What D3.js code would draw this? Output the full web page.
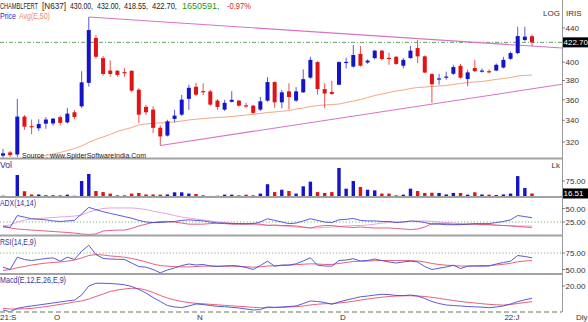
<!DOCTYPE html>
<html><head><meta charset="utf-8">
<script src="https://cdn.jsdelivr.net/npm/d3@7"></script>
<style>
html,body{margin:0;padding:0;background:#fff;}
svg{display:block;font-family:"Liberation Sans",Arial,sans-serif;}
</style></head><body>
<svg id="chart" width="588" height="322"></svg>
<script>
// ---- daily OHLC (one entry per session) ----
const open  = [308,310.8,309,343.5,334.5,332.5,336.8,337,343,338,347.7,353.5,377.5,428,404.5,390.7,390.4,389,390.4,370.3,353,350.3,333,325.8,341.3,345.4,361,373.4,368.9,368.6,359.2,350.3,358,359.2,354.5,354.2,350.3,359.2,378.3,357.5,368.6,359.2,367.6,383,400,371,368,375.5,399.5,395,409.3,399.6,404.5,413,404.8,406,396,404.5,416,406.5,386.8,381.8,383.8,387.2,395.9,381.5,393.5,390.2,390,390.7,394,403.7,410.2,425.5,430];
const high  = [314,312,361,345,340.7,341,343,342,344.5,352,350,390,453.7,431.5,407,402,391.5,393.3,391,372,355,353.6,335,340.5,350,365,375.5,377.6,377,370,361,360,368.8,360,357,355,363,383.5,379,370,377,373,392,406,401,377,379.5,401,405,419.6,418.5,403,414,414,410.5,407,404.5,418.5,425.4,407.5,388,387,389.5,397,398,391.5,402.5,393,392,398.5,406,412,441.6,441.6,432];
const low   = [306,307,307,331,327,330,332,335,335,337,341,352,373.5,404,385,384,384,384,368,337.5,345,328,316.9,325,338,344,350,364,365,354,350,349,357.5,353.5,352,346,349,358,352,351.5,350.3,358,367,382,365.2,351.5,365,375,393,394,395,398,403,402,397,397,393,404,399,388,357,375.5,380.8,386,382,374,389,388.5,387.5,390,393,402.5,409,424,418.55];
const close = [310,308.5,343.5,334,333.5,336.5,340.7,341.6,337.6,346.4,343.2,378,437.5,406,387,387,386,388,369.3,345.4,347.7,332.9,325,339,344.5,360.2,372.3,365.2,368.3,355.2,352.9,357,360,354.2,353.8,347.1,358.5,378.3,357.5,367.6,362.8,368.6,381.4,402.5,371,366.4,366,400,400.3,408,396,401.7,413,403.5,403.7,398,402.5,413,406.5,388.5,376,382.2,384.2,394.5,383,388.7,390,390.7,389.5,397,402.5,410.2,430.2,429.5,422.7];
// volume in lakh shares
const volume = [6,4,103,27,12,12,8,8,8,11,6,75,108,28,23,16,8,8,16,19,12,12,11,12,22,22,16,14,8,5,6,11,11,8,11,8,16,60,23,34,28,16,50,72,23,19,23,136,39,75,47,34,31,16,16,8,11,39,28,19,20,19,12,19,19,11,22,12,11,9,12,16,98,42,16.51];
// 50-period exponential average of close
const ema50 = [299.2,300.9,302.6,304.3,305.6,306.9,308.1,309.4,310.7,312.5,314.2,316.5,319.6,322.3,324.5,326.8,329.5,331.4,333.2,335.6,336.5,337.2,337.5,337.9,338.4,339.3,340.3,341.0,341.7,342.2,342.7,343.1,343.6,344.3,345.1,345.7,346.5,347.5,348.0,348.7,349.4,350.9,351.9,353.3,354.3,354.8,355.3,355.8,357.3,358.8,360.3,362.3,364.4,365.9,367.4,369.0,370.0,371.6,372.6,373.1,373.7,374.2,374.7,375.8,376.8,377.9,378.4,378.9,380.0,381.1,382.1,383.2,384.8,385.4,385.9];
// ADX(14,14): +DI, ADX, -DI
const plusDI = [16,15,37,34,31,30,29,27,26,27,28,40,52,48,44,41,38,35,32,28,25,24,24,25,26,28,29,28,27,25,23,23,22,22,22,22,25,31,28,25,22,23,27,31,28,25,24,29,30,31.5,28,27,27,26,26,24,25,27,26,24,21,21,20,20,20,21,22,22,22,24,26,29,37,35,33];
const adx    = [17.5,19.5,25,28.7,30.5,31.5,32.4,33.3,34.3,35,36,38,43.5,47,50,51,51,51,51,50,48,45,42.6,40,37,34,32.4,30.5,28.7,27,25,24,23,22,21,20.4,19.4,19.4,18.5,17.6,16.7,15.7,14.8,14,13.9,14.8,15.7,16.7,17.6,18.5,18.5,19.4,21,23,24,25,25,26,27,27,26,25,24,23,22,21,20.4,19.4,19.4,18.5,18.5,18.5,17.6,17.6,17.6];
const minusDI= [17.6,14,12,11,10,9.3,8.3,7.4,6.5,5.6,4.6,2.8,1.9,2.8,8.3,9.3,10,10,13,17.6,21,24,26,26,25,23,21,21,21,22,23,22,21,21,21,22,21,18.5,19.4,18.5,18.5,17.6,15.7,13.9,16.7,18.5,18.5,16.7,15.7,14.8,15.7,14.8,13.9,13.9,13.9,13,12,11,12,15.7,22,22,22,21,21,21,21,20.4,20.4,19.4,18.5,17.6,16.7,15.7,14.8];
// RSI(14) and its 9-period average
const rsi    = [53.5,50,68.6,65.2,63.6,65.2,66.7,67.7,62.6,68.6,65.2,77.7,86.8,72.7,66.7,65.9,65.5,65.2,59.8,54.5,53.5,50,45,49.2,52.3,56,58.3,56.8,57.6,55.3,54.5,55.3,56,55.3,53,50,56,62.6,55,56.8,56.8,58.6,62.9,67.7,56.5,55.3,55,63.6,64.4,66.2,62.9,63.6,65.9,63.6,61.4,59.8,61.4,62.6,61.4,54.5,50,52,53.8,56.5,51.5,55,55.3,55,55.3,58.3,60.6,62.6,71.2,69.7,67.7];
const rsiAvg = [48.5,50,52.6,54.5,56.8,58.3,59.8,60.6,61.4,62.6,64.4,67.4,71.2,72.7,72,70.5,69.7,68.6,66.7,64.4,61.4,58.3,56,55,54.5,54,53.8,54.5,55,55.3,55.3,55,55,54.5,54.2,53.5,54,55.3,55.6,56,56.5,57.3,58,58.6,58.3,57.6,57.6,59.1,60.6,62.1,62.6,62.9,63.3,63.6,63.6,63.6,63.6,63.6,62.9,61.4,59.1,57.6,56.5,56,55.3,55.3,55.6,56,56,56.8,57.9,59.4,61.7,62.9,63.6];
// MACD(12,26) and 9-period signal
const macd   = [-6.3,-8.2,-4.5,-3,-1.9,-0.8,0.3,1.4,2.5,3.6,4.6,10.1,20,23,23,22.7,22.2,21.3,19.5,16.2,12.3,7.4,3,-1.4,-3,-3.6,-1.9,0.3,-0.3,-1.4,-2.3,-2.7,-3.4,-4.1,-5.2,-6.3,-5.8,-3,-3.4,-3,-2.5,-1.9,0.8,3.6,3,1.9,-0.1,2.5,4.6,6.3,8.2,9,10.1,10.9,10.6,9.6,9.4,10.1,9,6.3,3,0.8,-0.8,-1.4,-1.9,-2.5,-2.8,-3.2,-3.8,-3,-1.9,0.3,2.8,4.9,6.5];
const signal = [-4.5,-5.2,-5.2,-5,-4.5,-3.6,-2.5,-1.4,-0.1,1,2.5,3.6,5.7,8.5,11.2,14,15.6,16.7,17.5,17.3,15.6,12.9,9.6,6.8,4.6,3,1.9,1,0.5,-0.1,-0.6,-1.2,-1.7,-2.3,-2.8,-3.4,-3.8,-3.8,-3.6,-3.4,-3,-2.7,-1.9,-0.8,0,0.6,0.8,1.4,2.2,3.3,4.6,5.7,6.8,7.7,8.5,9,9.3,9.3,9,8.5,7.6,6.5,5.2,4.1,3,2.1,1.4,0.6,-0.1,-0.6,-0.9,-0.3,0.8,1.9,2.8];
// trend lines as [session index, price] anchors
const upperTrend = [[12, 453.7], [78.2, 416.1]];
const lowerTrend = [[22, 316.9], [78.2, 376.0]];
// axis ticks
const monthTicks  = [0, 7, 27, 47, 70];
const monthLabels = ["21:S", "O", "N", "D", "22:J"];
const priceTicks = [320, 340, 360, 380, 400, 440];
const volTicks = [75];
const adxTicks = [25, 50];
const rsiTicks = [50, 75];
const macdTicks = [20];
const lastVolLabel = "16.51";
const lastClose = 422.70;

const BLUE = "#1414c8", RED = "#e01414";
const IND_BLUE = "#4848cc", IND_RED = "#e0506e", IND_PINK = "#e49ad8";
const svg = d3.select("#chart");
const W = 562;

const x = d3.scaleLinear().domain([0, open.length - 1]).range([3, 532]);
const yP = d3.scaleLog().domain([306.0, 475.8]).range([158, 0]);
const yV = d3.scaleLinear().domain([0, 75]).range([197, 181]);
const yA = d3.scaleLinear().domain([0, 50]).range([235.5, 208.5]);
const yR = d3.scaleLinear().domain([50, 75]).range([269.5, 253]);
const yM = d3.scaleLinear().domain([-8.5, 20]).range([312, 286]);

svg.append("rect").attr("width", 588).attr("height", 322).attr("fill", "#fff");

// clip regions per panel
const defs = svg.append("defs");
const panels = {price: [0, 158], vol: [158, 197], adx: [197, 235], rsi: [235, 274], macd: [274, 312]};
Object.entries(panels).forEach(([k, [a, b]]) => {
  defs.append("clipPath").attr("id", "clip-" + k)
    .append("rect").attr("x", 0).attr("y", a).attr("width", W).attr("height", b - a);
});
const layer = k => svg.append("g").attr("clip-path", `url(#clip-${k})`);

// ---- price panel ----
const gp = layer("price");
const idx = d3.range(open.length);
// last close dash-dot line
gp.append("line").attr("x1", 0).attr("x2", W).attr("y1", yP(lastClose)).attr("y2", yP(lastClose))
  .attr("stroke", "#3c8c3c").attr("stroke-width", 0.8).attr("stroke-dasharray", "4,2,1,2");
// trend lines
[upperTrend, lowerTrend].forEach(t => {
  gp.append("line")
    .attr("x1", x(t[0][0])).attr("y1", yP(t[0][1]))
    .attr("x2", x(t[1][0])).attr("y2", yP(t[1][1]))
    .attr("stroke", "#d873c4").attr("stroke-width", 1.1);
});
// EMA
gp.append("path").datum(ema50)
  .attr("d", d3.line().x((d, i) => x(i)).y(d => yP(d)))
  .attr("fill", "none").attr("stroke", "#f2a882").attr("stroke-width", 1);
// candles
const cg = gp.selectAll("g.c").data(idx).join("g");
cg.append("line")
  .attr("x1", i => x(i)).attr("x2", i => x(i))
  .attr("y1", i => yP(high[i])).attr("y2", i => yP(low[i]))
  .attr("stroke", i => close[i] >= open[i] ? "#5a5ad8" : "#e85050").attr("stroke-width", 1);
cg.append("rect")
  .attr("x", i => x(i) - 2).attr("width", 4)
  .attr("y", i => yP(Math.max(open[i], close[i])))
  .attr("height", i => Math.max(1.2, yP(Math.min(open[i], close[i])) - yP(Math.max(open[i], close[i]))))
  .attr("fill", i => close[i] >= open[i] ? BLUE : RED);

// ---- volume ----
const gv = layer("vol");
gv.selectAll("rect").data(idx).join("rect")
  .attr("x", i => x(i) - 1.7).attr("width", 3.4)
  .attr("y", i => yV(volume[i])).attr("height", i => yV(0) - yV(volume[i]))
  .attr("fill", i => close[i] >= open[i] ? BLUE : RED);

// ---- indicator helpers ----
function series(g, data, yS, color) {
  g.append("path").datum(data)
    .attr("d", d3.line().x((d, i) => x(i)).y(d => yS(d)))
    .attr("fill", "none").attr("stroke", color).attr("stroke-width", 0.9);
}
function hDotted(g, yv) {
  g.append("line").attr("x1", 0).attr("x2", W).attr("y1", yv).attr("y2", yv)
    .attr("stroke", "#5aa05a").attr("stroke-width", 0.8).attr("stroke-dasharray", "1.2,2");
}

const ga = layer("adx");
hDotted(ga, yA(25));
series(ga, adx, yA, IND_PINK);
series(ga, minusDI, yA, IND_RED);
series(ga, plusDI, yA, IND_BLUE);

const gr = layer("rsi");
hDotted(gr, yR(75));
series(gr, rsiAvg, yR, IND_RED);
series(gr, rsi, yR, IND_BLUE);

const gm = layer("macd");
series(gm, signal, yM, IND_RED);
series(gm, macd, yM, IND_BLUE);

// ---- frames ----
[158.5, 197, 235.5, 274].forEach(yy => {
  svg.append("line").attr("x1", 0).attr("x2", W).attr("y1", yy).attr("y2", yy)
    .attr("stroke", "#a2a2a2").attr("stroke-width", 2);
});
svg.append("line").attr("x1", 0).attr("x2", W).attr("y1", 312).attr("y2", 312)
  .attr("stroke", "#9aa890").attr("stroke-width", 1.3).attr("stroke-dasharray", "5,3");
svg.append("line").attr("x1", W + 0.5).attr("x2", W + 0.5).attr("y1", 0).attr("y2", 312)
  .attr("stroke", "#9a9a9a").attr("stroke-width", 1);

// ---- right axes ----
const axisText = (yv, t) => {
  svg.append("line").attr("x1", W).attr("x2", W + 3).attr("y1", yv).attr("y2", yv)
    .attr("stroke", "#666").attr("stroke-width", 0.8);
  svg.append("text").attr("x", W + 3.5).attr("y", yv + 3).attr("font-size", 8)
    .attr("fill", "#333").text(t);
};
priceTicks.forEach(p => axisText(yP(p), d3.format("d")(p)));
volTicks.forEach(v => axisText(yV(v), d3.format(".2f")(v)));
adxTicks.forEach(v => axisText(yA(v), d3.format(".2f")(v)));
rsiTicks.forEach(v => axisText(yR(v), d3.format(".2f")(v)));
macdTicks.forEach(v => axisText(yM(v), d3.format(".2f")(v)));

function tagBox(yv, t) {
  svg.append("rect").attr("x", W + 1).attr("y", yv - 5).attr("width", 588 - W).attr("height", 10).attr("fill", "#000");
  svg.append("text").attr("x", W + 1.5).attr("y", yv + 3).attr("font-size", 8).attr("fill", "#fff").text(t);
}
tagBox(yP(lastClose), d3.format(".2f")(lastClose));
tagBox(yV(volume[volume.length - 1]), lastVolLabel);

const small = (xx, yy, t, fill, anchor) => svg.append("text").attr("x", xx).attr("y", yy)
  .attr("font-size", 8).attr("fill", fill || "#333").attr("text-anchor", anchor || "start").text(t);
small(560, 16, "LOG", "#333", "end");
small(566, 16, "IRIS");
small(560, 167.5, "Lk", "#333", "end");
small(576, 319.5, "Dly");

// ---- x axis ----
monthTicks.forEach((m, k) => {
  small(Math.max(0, x(m) + 1 - (k === 0 ? 4 : 0)), 319.5, monthLabels[k]);
});

// ---- titles: narrow text, squeezed horizontally to a given width ----
function fitText(xx, yy, s, fill, len, fs) {
  const t = svg.append("text").attr("font-size", fs || 9).attr("fill", fill).text(s);
  const nat = t.node().getComputedTextLength();
  const k = Math.min(1, len / nat);
  t.attr("transform", `translate(${xx},${yy}) scale(${k},1)`);
}
fitText(0, 8.5, "CHAMBLFERT", "#222", 38);
fitText(42, 8.5, "[N637]", "#222", 24);
fitText(70, 8.5, "430.00,", "#222", 23);
fitText(97, 8.5, "432.00,", "#222", 23.5);
fitText(124, 8.5, "418.55,", "#222", 24);
fitText(152, 8.5, "422.70,", "#222", 25);
fitText(182, 8.5, "1650591,", "#1a9a1a", 40);
fitText(227, 8.5, "-0.97%", "#e02020", 24);
fitText(0, 19, "Price", "#2b2bcc", 16);
fitText(19, 19, "Avg(E,50)", "#f08a6a", 31);
fitText(22, 157.5, "Source : www.SpiderSoftwareIndia.Com", "#222", 124, 8);
fitText(0, 168, "Vol", "#33339a", 12);
fitText(0, 205.5, "ADX(14,14)", "#33339a", 36);
fitText(0, 244.5, "RSI(14,E,9)", "#33339a", 36);
fitText(0, 283, "Macd(E,12,E,26,E,9)", "#33339a", 66);
</script>
</body></html>
